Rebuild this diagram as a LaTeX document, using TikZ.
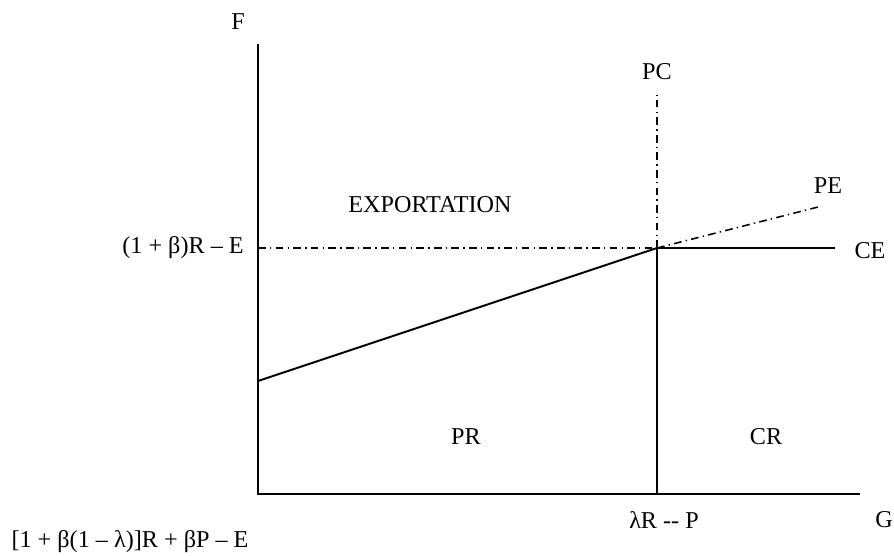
\documentclass[tikz,border=0pt]{standalone}
\usepackage{fontspec}
\setmainfont{Liberation Serif}
\usetikzlibrary{calc}

\begin{document}
\begin{tikzpicture}[x=0.025cm,y=-0.025cm,
            axis/.style={line width=2pt},
            curve/.style={line width=1.4pt},
            dashdot/.style={line width=1.1pt,dash pattern=on 5.5pt off 3pt on 1pt off 3pt},
            lbl/.style={inner sep=0pt,font=\fontsize{17.2}{20}\selectfont}]
            \useasboundingbox (0,0) rectangle (894,555);

            % axes and corners
            \coordinate (O)  at (258,494);
            \coordinate (yt) at (258,44);
            \coordinate (xe) at (860,494);
            \coordinate (K)  at (657,248);
            \coordinate (yk) at (258,248);
            \coordinate (y0) at (258,381);
            \coordinate (xk) at (657,494);
            \coordinate (pc) at (657,95);
            \coordinate (ce) at (835,248);
            \coordinate (pe) at (822,206);

            \draw[axis] (yt) -- (O) -- (xe);

            \path
            (y0)    edge[curve]     (K)
            (K)     edge[curve]     (xk)
            (K)     edge[curve]     (ce)
            (yk)    edge[dashdot]   (K)
            (K)     edge[dashdot]   (pc)
            (K)     edge[dashdot]   (pe);

            % labels
            \node[lbl] (F)    at (238,22)  {F};
            \node[lbl] (G)    at (884,520) {G};
            \node[lbl] (PC)   at (657,72)  {PC};
            \node[lbl] (PE)   at (828,186) {PE};
            \node[lbl] (CE)   at (870,251) {CE};
            \node[lbl] (EXP)  at (430,205) {EXPORTATION};
            \node[lbl] (PR)   at (466,437) {PR};
            \node[lbl] (CR)   at (766,437) {CR};
            \node[lbl] (fk)   at (183,248) {(1 + β)R – E};
            \node[lbl] (gk)   at (664,520) {λR {-}{-} P};
            \node[lbl] (f0)   at (130,542) {[1 + β(1 – λ)]R + βP – E};
        \end{tikzpicture}
\end{document}
